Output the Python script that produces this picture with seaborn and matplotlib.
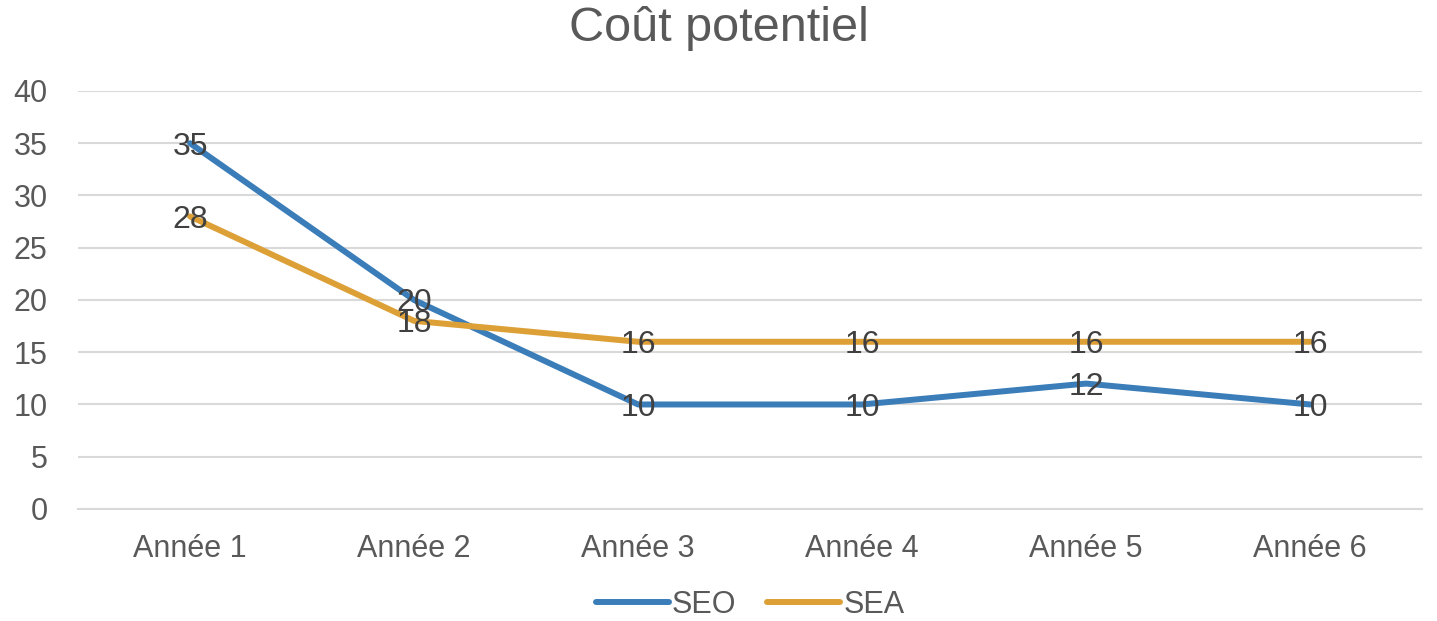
import matplotlib
matplotlib.use("Agg")
import matplotlib.pyplot as plt
import seaborn as sns
import pandas as pd

# data
annees = ["Année 1", "Année 2", "Année 3", "Année 4", "Année 5", "Année 6"]
seo = [35, 20, 10, 10, 12, 10]
sea = [28, 18, 16, 16, 16, 16]
series_names = ["SEO", "SEA"]
colors = ["#3A7DB9", "#DCA036"]

df = pd.DataFrame({
    "annee": annees * 2,
    "cout": seo + sea,
    "serie": ["SEO"] * len(seo) + ["SEA"] * len(sea),
})

sns.set_style("white")
plt.rcParams['font.family'] = ['Liberation Sans', 'DejaVu Sans']

fig = plt.figure(figsize=(14.37, 6.21), dpi=100)
ax = fig.add_axes([0.0543, 0.1804, 0.9353, 0.6731])

sns.lineplot(data=df, x="annee", y="cout", hue="serie", hue_order=series_names,
             palette=colors, linewidth=4.3, sort=False, ax=ax,
             solid_capstyle="round")

# data labels centred on the points (they overlap at Année 2, as in the original)
for vals in (seo, sea):
    for i, v in enumerate(vals):
        ax.text(i, v, str(v), ha="center", va="center_baseline", fontsize=23,
                color="#404040", zorder=5)

ax.set_xlim(-0.5, len(annees) - 0.5)
ax.set_ylim(0, 40)
ax.set_yticks(range(0, 41, 5))
ax.yaxis.grid(True, color="#D9D9D9", linewidth=1.5)
ax.set_axisbelow(True)
for s in ["top", "right", "left"]:
    ax.spines[s].set_visible(False)
ax.spines["bottom"].set_color("#D9D9D9")
ax.spines["bottom"].set_linewidth(1.5)
ax.tick_params(axis="both", length=0, labelsize=22, labelcolor="#595959")
ax.tick_params(axis="x", pad=18)
ax.tick_params(axis="y", pad=22)
ax.set_xlabel("")
ax.set_ylabel("")

fig.suptitle("Coût potentiel", fontsize=35, color="#595959", y=0.99)

ax.legend(loc="center", bbox_to_anchor=(0.5, -0.23), ncol=2, frameon=False,
          fontsize=22, labelcolor="#595959", handlelength=2.4, handletextpad=0.1,
          columnspacing=1.0)

fig.savefig("out.png", dpi=100)
